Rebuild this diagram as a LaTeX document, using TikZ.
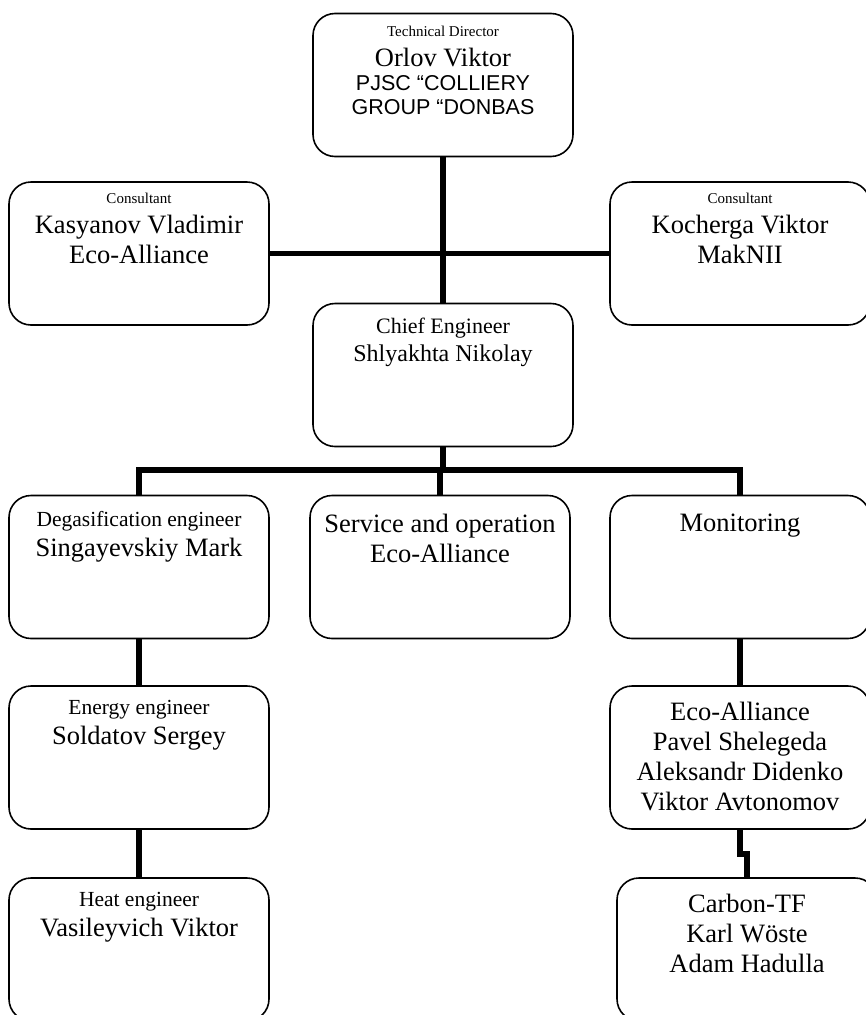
\documentclass[tikz,border=0pt]{standalone}
\usepackage{fontspec}
\setmainfont{Liberation Serif}
\newfontfamily\sansfont{Liberation Sans}
\usetikzlibrary{positioning}

\newcommand{\post}[1]{{\fontsize{15}{18}\selectfont\spaceskip=.25em\relax #1\par}}
\newcommand{\rank}[1]{{\fontsize{21.5}{25}\selectfont\spaceskip=.25em\relax #1\par}}
\newcommand{\who}[1]{{\fontsize{26.5}{30}\selectfont\spaceskip=.25em\relax #1\par}}

\begin{document}
\begin{tikzpicture}[x=1pt,y=-1pt,
	unit/.style={draw,rounded corners=22pt,line width=1.6pt,minimum width=260pt,minimum height=143pt,inner sep=0pt},
	caption/.style={text width=256pt,align=center,inner sep=0pt},
	link/.style={line width=5.5pt}]
	\useasboundingbox (0,0) rectangle (866,1015);
	\node [unit] (tech) at (443,85) {};
	\node [unit] (consL) at (139,253.5) {};
	\node [unit] (consR) at (740,253.5) {};
	\node [unit] (chief) at (443,375) {};
	\node [unit] (degas) at (139,567) {};
	\node [unit] (service) at (440,567) {};
	\node [unit] (monitor) at (740,567) {};
	\node [unit] (energy) at (139,757.5) {};
	\node [unit] (heat) at (139,949.5) {};
	\node [unit] (eco) at (740,757.5) {};
	\node [unit] (carbon) at (747,949.5) {};
	\coordinate (bus) at (0,470);

	\node [caption,below=13pt of tech.north] (techT) {\post{Technical Director}\who{Orlov Viktor}{\sansfont\fontsize{21.5}{24}\selectfont\spaceskip=.278em\relax PJSC “COLLIERY\par GROUP “DONBAS\par}};
	\node [caption,below=12pt of consL.north] (consLT) {\post{Consultant}\who{Kasyanov Vladimir}\who{Eco-Alliance}};
	\node [caption,below=12pt of consR.north] (consRT) {\post{Consultant}\who{Kocherga Viktor}\who{MakNII}};
	\node [caption,below=15pt of chief.north] (chiefT) {{\fontsize{22}{26}\selectfont\spaceskip=.25em\relax Chief Engineer\par}{\fontsize{24}{28}\selectfont\spaceskip=.25em\relax Shlyakhta Nikolay\par}};
	\node [caption,below=16pt of degas.north] (degasT) {\rank{Degasification engineer}\who{Singayevskiy Mark}};
	\node [caption,below=19pt of service.north] (serviceT) {\who{Service and operation}\who{Eco-Alliance}};
	\node [caption,below=19pt of monitor.north] (monitorT) {\who{Monitoring}};
	\node [caption,below=15pt of energy.north] (energyT) {\rank{Energy engineer}\who{Soldatov Sergey}};
	\node [caption,below=15pt of heat.north] (heatT) {\rank{Heat engineer}\who{Vasileyvich Viktor}};
	\node [caption,below=17pt of eco.north] (ecoT) {\who{Eco-Alliance}\who{Pavel Shelegeda}\who{Aleksandr Didenko}\who{Viktor Avtonomov}};
	\node [caption,below=17pt of carbon.north] (carbonT) {\who{Carbon-TF}\who{Karl Wöste}\who{Adam Hadulla}};

	\draw [link] (tech) -- (chief);
	\draw [link] (consL) -- (consR);
	\draw [link] (chief.south) -- (chief.south |- bus);
	\draw [link] (degas.north) |- (monitor.north |- bus) -- (monitor.north);
	\draw [link] (service.north) -- (service.north |- bus);
	\draw [link] (degas) -- (energy);
	\draw [link] (energy) -- (heat);
	\draw [link] (monitor) -- (eco);
	\draw [link] (eco.south) -- ++(0,24) -| (carbon.north);
\end{tikzpicture}
\end{document}
